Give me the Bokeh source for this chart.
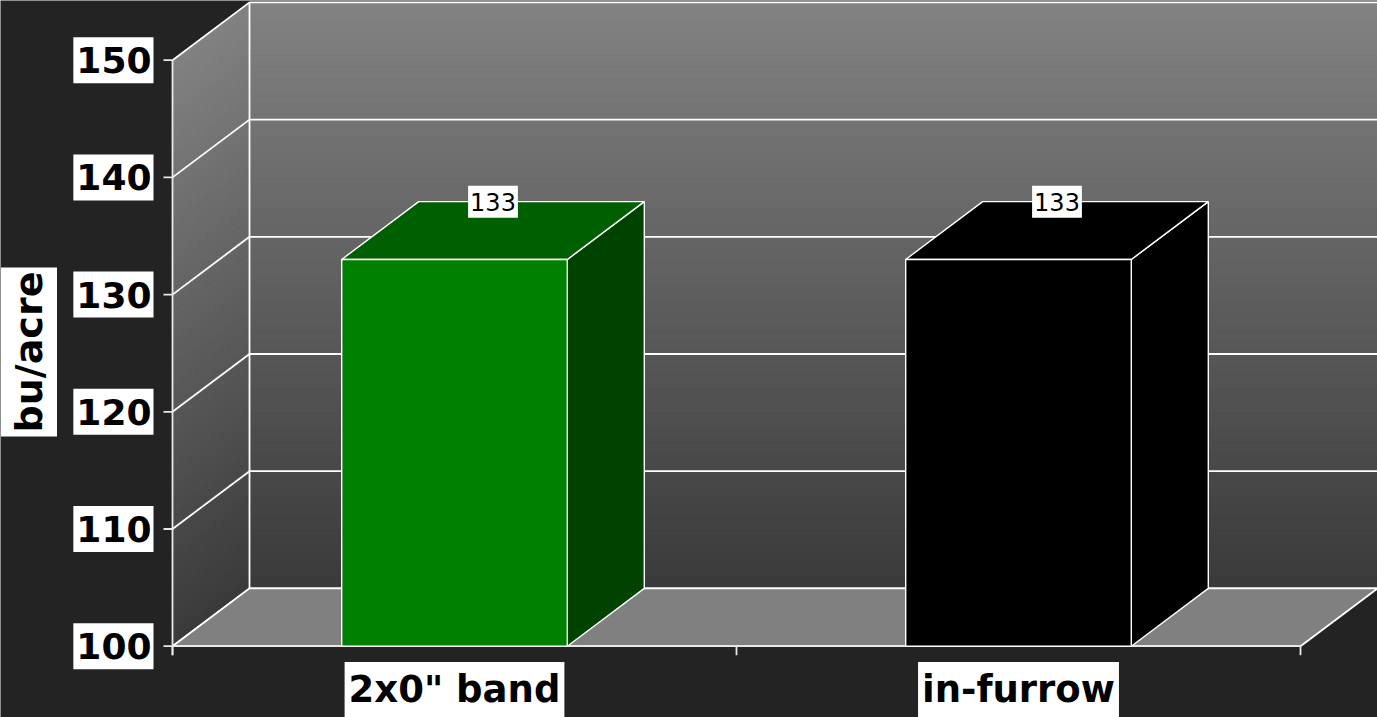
import numpy as np
from bokeh.plotting import figure
from bokeh.models import Range1d
from bokeh.embed import file_html
from bokeh.resources import INLINE
from bokeh.core.properties import value

# ---- data ----
categories = ['2x0" band', "in-furrow"]
yields = [133, 133]
value_labels = ["133", "133"]
y_ticks = [100, 110, 120, 130, 140, 150]
y_title = "bu/acre"

front_colors = ["#008000", "#000000"]
top_colors = ["#005f00", "#000000"]
side_colors = ["#004200", "#000000"]

# ---- geometry (pixel scale of the reference) ----
W, H = 1377, 717
PX_X = 564.0          # pixels per category slot
PX_Y = 11.72          # pixels per bu/acre
X0_PIX = 172.0        # front axis x pixel
Y0_PIX = 645.7        # y=100 pixel
Y_MIN, Y_MAX = 100, 150
DX = 77.0 / PX_X      # depth offset (x)
DY = 57.8 / PX_Y      # depth offset (y)
N = len(categories)

x_start = -X0_PIX / PX_X
x_end = (W - X0_PIX) / PX_X
y_start = Y_MIN - (H - Y0_PIX) / PX_Y
y_end = Y_MIN + Y0_PIX / PX_Y

p = figure(width=W, height=H,
           x_range=Range1d(x_start, x_end), y_range=Range1d(y_start, y_end),
           output_backend="svg", toolbar_location=None, min_border=0,
           x_axis_location=None, y_axis_location=None,
           background_fill_color="#232323", border_fill_color="#232323",
           outline_line_color=None)
p.grid.visible = False


def wall_gray(v):
    t = (v - Y_MIN) / (Y_MAX - Y_MIN)
    g = int(round(58 + 72 * t))
    return "#%02x%02x%02x" % (g, g, g)


step = 0.5
levels = np.arange(Y_MIN, Y_MAX, step)
cols = [wall_gray(v + step / 2) for v in levels]

# back wall gradient
p.quad(left=DX, right=x_end, bottom=levels + DY, top=levels + step + DY,
       fill_color=cols, line_color=cols, line_width=1)
# side wall gradient
p.patches([[0, DX, DX, 0] for v in levels],
          [[v, v + DY, v + step + DY, v + step] for v in levels],
          fill_color=cols, line_color=cols, line_width=1)

# gridlines
gx, gy = [], []
for t in y_ticks:
    gx.append([DX, x_end]); gy.append([t + DY, t + DY])
    gx.append([0, DX]); gy.append([t, t + DY])
gx.append([DX, DX]); gy.append([Y_MIN + DY, Y_MAX + DY])
p.multi_line(gx, gy, line_color="white", line_width=1.8)

# floor
p.patch([0, N, N + DX, DX], [Y_MIN, Y_MIN, Y_MIN + DY, Y_MIN + DY],
        fill_color="#808080", line_color="white", line_width=1.8)

# axis line and ticks
tick_len_x = 9.0 / PX_X
tick_len_y = 9.0 / PX_Y
ax, ay = [[0, 0]], [[Y_MIN - tick_len_y, Y_MAX]]
for t in y_ticks:
    ax.append([-tick_len_x, 0]); ay.append([t, t])
for k in range(N + 1):
    ax.append([k, k]); ay.append([Y_MIN - tick_len_y, Y_MIN])
ax.append([0, N]); ay.append([Y_MIN, Y_MIN])
p.multi_line(ax, ay, line_color="#e8e8e8", line_width=1.8)

# bars
bw = 0.4
for i, v in enumerate(yields):
    c = i + 0.5
    l, r = c - bw / 2, c + bw / 2
    p.patch([r, r + DX, r + DX, r], [Y_MIN, Y_MIN + DY, v + DY, v],
            fill_color=side_colors[i], line_color="white", line_width=1.4)
    p.patch([l, r, r + DX, l + DX], [v, v, v + DY, v + DY],
            fill_color=top_colors[i], line_color="white", line_width=1.4)
    p.quad(left=[l], right=[r], bottom=[Y_MIN], top=[v],
           fill_color=front_colors[i], line_color="white", line_width=1.4)

# value labels
p.text(x=[i + 0.5 + DX / 2 for i in range(N)], y=[v + DY for v in yields],
       text=value_labels, text_align="center", text_baseline="middle",
       text_font=value("DejaVu Sans"), text_font_size="24px", text_color="black",
       background_fill_color="white",
       padding=dict(left=2, right=2, top=7, bottom=7))

# y tick labels
p.text(x=[-19.0 / PX_X] * len(y_ticks), y=y_ticks, text=[str(t) for t in y_ticks],
       text_align="right", text_baseline="middle",
       text_font=value("DejaVu Sans"), text_font_style="bold",
       text_font_size="36px", text_color="black",
       background_fill_color="white",
       padding=dict(left=3, right=2, top=10, bottom=10))

# axis title
p.text(x=[(28.5 - X0_PIX) / PX_X], y=[Y_MIN + (Y0_PIX - 351.5) / PX_Y], text=[y_title],
       angle=np.pi / 2, text_align="center", text_baseline="middle",
       text_font=value("DejaVu Sans"), text_font_style="bold",
       text_font_size="38px", text_color="black",
       background_fill_color="white",
       padding=dict(left=4, right=4, top=6, bottom=6))

# category labels
p.text(x=[i + 0.5 for i in range(N)], y=[Y_MIN - (689 - Y0_PIX) / PX_Y] * N,
       text=categories, text_align="center", text_baseline="middle",
       text_font=value("DejaVu Sans"), text_font_style="bold",
       text_font_size="37px", text_color="black",
       background_fill_color="white",
       padding=dict(left=4, right=4, top=6, bottom=6))

open("out.html", "w").write(file_html(p, INLINE))
